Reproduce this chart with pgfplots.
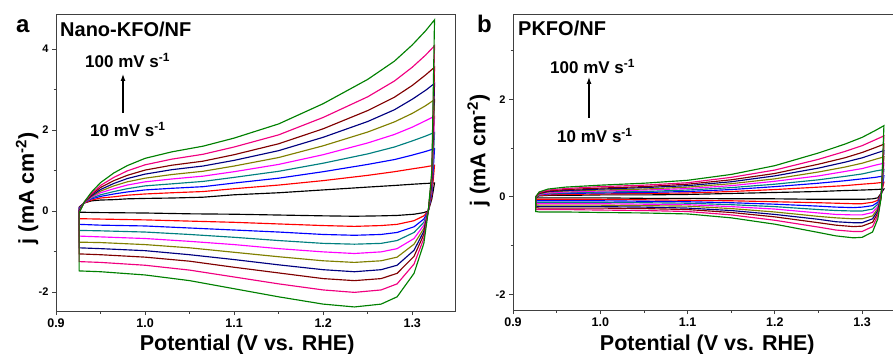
\documentclass[border=0pt]{standalone}
\usepackage{pgfplots}
\pgfplotsset{compat=1.18}
\usepackage{fontspec}
\setmainfont{Liberation Sans}
\usetikzlibrary{arrows.meta}
\definecolor{cBlack}{RGB}{0,0,0}
\definecolor{cRed}{RGB}{255,0,0}
\definecolor{cBlue}{RGB}{0,0,255}
\definecolor{cTeal}{RGB}{0,128,128}
\definecolor{cMag}{RGB}{255,0,255}
\definecolor{cOlive}{RGB}{128,128,0}
\definecolor{cNavy}{RGB}{0,0,128}
\definecolor{cWine}{RGB}{128,0,0}
\definecolor{cPink}{RGB}{240,0,128}
\definecolor{cGreen}{RGB}{0,128,0}
\pgfplotsset{cvax/.style={
  scale only axis,
  axis line style={line width=1pt, black!75},
  tick align=outside, tick pos=left,
  major tick length=4pt, minor tick length=2.5pt,
  every tick/.style={black!75, line width=0.8pt},
  xmin=0.9,
  xtick={0.9,1.0,1.1,1.2,1.3}, minor xtick={0.95,1.05,1.15,1.25},
  /pgf/number format/assume math mode=true,
  xticklabel style={font=\bfseries\fontsize{12.5}{12.5}\selectfont, /pgf/number format/.cd, fixed, fixed zerofill, precision=1},
  yticklabel style={font=\bfseries\fontsize{11}{11}\selectfont},
  every axis plot/.style={line width=1.15pt},
  xlabel={Potential (V vs. RHE)},
  ylabel={j (mA cm\textsuperscript{-2})},
  label style={font=\bfseries\fontsize{21.5}{21.5}\selectfont},
}}
\begin{document}
\begin{tikzpicture}
\path[use as bounding box] (0pt,0pt) rectangle (893pt,353pt);
% ---------------- panel a ----------------
\begin{axis}[cvax, at={(56pt,42pt)}, anchor=south west, width=399pt, height=296pt,
  xmax=1.348, ymin=-2.47, ymax=4.84,
  ytick={-2,0,2,4}, minor ytick={-1,1,3},
  xlabel style={at={(axis description cs:0.479,-0.1318)}, anchor=base},
  ylabel style={at={(axis description cs:-0.0727,0.415)}, anchor=center}]
\addplot[cBlack] coordinates {(0.926,0.10)(0.932,0.20)(0.94,0.25)(0.95,0.27)(0.965,0.28)(0.98,0.30)(1.0,0.31)(1.03,0.32)(1.065,0.34)(1.1,0.40)(1.15,0.45)(1.2,0.52)(1.25,0.59)(1.28,0.63)(1.30,0.66)(1.315,0.68)(1.325,0.69)
 (1.322,0.30)(1.318,0.00)(1.313,-0.04)(1.302,-0.08)(1.283,-0.11)(1.265,-0.12)(1.235,-0.13)(1.2,-0.12)(1.15,-0.10)(1.1,-0.08)(1.05,-0.07)(1.0,-0.05)(0.95,-0.04)(0.926,-0.03)(0.926,0.10)};
\addplot[cRed] coordinates {(0.926,0.08)(0.932,0.20)(0.94,0.27)(0.95,0.32)(0.965,0.35)(0.98,0.39)(1.0,0.42)(1.03,0.45)(1.065,0.48)(1.1,0.55)(1.15,0.64)(1.2,0.75)(1.25,0.88)(1.28,0.97)(1.30,1.04)(1.315,1.09)(1.325,1.13)
 (1.322,0.38)(1.318,0.00)(1.313,-0.12)(1.302,-0.24)(1.283,-0.33)(1.265,-0.36)(1.235,-0.38)(1.2,-0.36)(1.15,-0.32)(1.1,-0.28)(1.05,-0.25)(1.0,-0.22)(0.95,-0.20)(0.926,-0.19)(0.926,0.08)};
\addplot[cBlue] coordinates {(0.926,0.07)(0.932,0.21)(0.94,0.30)(0.95,0.36)(0.965,0.42)(0.98,0.47)(1.0,0.52)(1.03,0.56)(1.065,0.60)(1.1,0.69)(1.15,0.81)(1.2,0.97)(1.25,1.15)(1.28,1.27)(1.30,1.38)(1.315,1.47)(1.325,1.54)
 (1.322,0.45)(1.318,0.00)(1.313,-0.20)(1.302,-0.39)(1.283,-0.53)(1.265,-0.58)(1.235,-0.60)(1.2,-0.58)(1.15,-0.52)(1.1,-0.47)(1.05,-0.42)(1.0,-0.37)(0.95,-0.35)(0.926,-0.33)(0.926,0.07)};
\addplot[cTeal] coordinates {(0.926,0.05)(0.932,0.21)(0.94,0.32)(0.95,0.40)(0.965,0.48)(0.98,0.55)(1.0,0.62)(1.03,0.67)(1.065,0.73)(1.1,0.83)(1.15,0.98)(1.2,1.18)(1.25,1.41)(1.28,1.58)(1.30,1.73)(1.315,1.85)(1.325,1.94)
 (1.322,0.52)(1.318,0.00)(1.313,-0.28)(1.302,-0.53)(1.283,-0.73)(1.265,-0.80)(1.235,-0.82)(1.2,-0.80)(1.15,-0.73)(1.1,-0.65)(1.05,-0.58)(1.0,-0.52)(0.95,-0.49)(0.926,-0.48)(0.926,0.05)};
\addplot[cMag] coordinates {(0.926,0.04)(0.932,0.21)(0.94,0.34)(0.95,0.45)(0.965,0.55)(0.98,0.64)(1.0,0.72)(1.03,0.79)(1.065,0.86)(1.1,0.97)(1.15,1.15)(1.2,1.39)(1.25,1.68)(1.28,1.89)(1.30,2.07)(1.315,2.23)(1.325,2.34)
 (1.322,0.59)(1.318,0.00)(1.313,-0.35)(1.302,-0.68)(1.283,-0.93)(1.265,-1.01)(1.235,-1.05)(1.2,-1.01)(1.15,-0.93)(1.1,-0.83)(1.05,-0.75)(1.0,-0.68)(0.95,-0.64)(0.926,-0.62)(0.926,0.04)};
\addplot[cOlive] coordinates {(0.926,0.02)(0.932,0.22)(0.94,0.36)(0.95,0.49)(0.965,0.62)(0.98,0.72)(1.0,0.81)(1.03,0.90)(1.065,0.98)(1.1,1.11)(1.15,1.32)(1.2,1.61)(1.25,1.95)(1.28,2.20)(1.30,2.41)(1.315,2.60)(1.325,2.75)
 (1.322,0.66)(1.318,0.00)(1.313,-0.43)(1.302,-0.82)(1.283,-1.14)(1.265,-1.23)(1.235,-1.27)(1.2,-1.23)(1.15,-1.13)(1.1,-1.02)(1.05,-0.91)(1.0,-0.83)(0.95,-0.78)(0.926,-0.77)(0.926,0.02)};
\addplot[cNavy] coordinates {(0.926,0.01)(0.932,0.22)(0.94,0.38)(0.95,0.53)(0.965,0.68)(0.98,0.80)(1.0,0.91)(1.03,1.02)(1.065,1.11)(1.1,1.25)(1.15,1.49)(1.2,1.82)(1.25,2.21)(1.28,2.50)(1.30,2.76)(1.315,2.98)(1.325,3.15)
 (1.322,0.73)(1.318,0.00)(1.313,-0.50)(1.302,-0.97)(1.283,-1.34)(1.265,-1.45)(1.235,-1.50)(1.2,-1.45)(1.15,-1.33)(1.1,-1.20)(1.05,-1.08)(1.0,-0.98)(0.95,-0.93)(0.926,-0.91)(0.926,0.01)};
\addplot[cWine] coordinates {(0.926,-0.01)(0.932,0.22)(0.94,0.41)(0.95,0.58)(0.965,0.75)(0.98,0.88)(1.0,1.01)(1.03,1.13)(1.065,1.23)(1.1,1.39)(1.15,1.66)(1.2,2.03)(1.25,2.48)(1.28,2.81)(1.30,3.10)(1.315,3.36)(1.325,3.55)
 (1.322,0.80)(1.318,0.00)(1.313,-0.58)(1.302,-1.12)(1.283,-1.54)(1.265,-1.67)(1.235,-1.72)(1.2,-1.67)(1.15,-1.53)(1.1,-1.39)(1.05,-1.24)(1.0,-1.14)(0.95,-1.08)(0.926,-1.06)(0.926,-0.01)};
\addplot[cPink] coordinates {(0.926,-0.03)(0.932,0.23)(0.94,0.43)(0.95,0.63)(0.965,0.83)(0.98,0.99)(1.0,1.14)(1.03,1.28)(1.065,1.40)(1.1,1.58)(1.15,1.88)(1.2,2.31)(1.25,2.82)(1.28,3.21)(1.30,3.55)(1.315,3.85)(1.325,4.08)
 (1.322,0.89)(1.318,0.00)(1.313,-0.68)(1.302,-1.31)(1.283,-1.80)(1.265,-1.95)(1.235,-2.01)(1.2,-1.95)(1.15,-1.80)(1.1,-1.63)(1.05,-1.46)(1.0,-1.34)(0.95,-1.27)(0.926,-1.25)(0.926,-0.03)};
\addplot[cGreen] coordinates {(0.926,-0.05)(0.932,0.23)(0.94,0.47)(0.95,0.70)(0.965,0.94)(0.98,1.12)(1.0,1.30)(1.03,1.46)(1.065,1.60)(1.1,1.80)(1.15,2.15)(1.2,2.65)(1.25,3.25)(1.28,3.70)(1.30,4.10)(1.315,4.45)(1.325,4.72)
 (1.322,1.00)(1.318,0.00)(1.313,-0.80)(1.302,-1.54)(1.283,-2.12)(1.265,-2.30)(1.235,-2.37)(1.2,-2.30)(1.15,-2.12)(1.1,-1.92)(1.05,-1.72)(1.0,-1.58)(0.95,-1.50)(0.926,-1.48)(0.926,-0.05)};
\end{axis}
% ---------------- panel b ----------------
\begin{axis}[cvax, at={(513pt,43pt)}, anchor=south west, width=384pt, height=295pt,
  xmax=1.34, ymin=-2.32, ymax=3.73,
  ytick={-2,0,2}, minor ytick={-1,1,3},
  xlabel style={at={(axis description cs:0.506,-0.1356)}, anchor=base},
  ylabel style={at={(axis description cs:-0.0898,0.54)}, anchor=center}]
\addplot[cBlack] coordinates {(0.926,0.00)(0.93,0.02)(0.94,0.03)(0.96,0.03)(1.0,0.04)(1.05,0.04)(1.1,0.05)(1.15,0.07)(1.2,0.09)(1.25,0.11)(1.28,0.13)(1.30,0.14)(1.315,0.15)(1.325,0.16)
 (1.322,0.08)(1.318,-0.02)(1.312,-0.04)(1.30,-0.05)(1.29,-0.05)(1.27,-0.05)(1.25,-0.05)(1.2,-0.04)(1.15,-0.04)(1.1,-0.03)(1.05,-0.03)(1.0,-0.02)(0.96,-0.02)(0.93,-0.02)(0.926,-0.02)(0.926,0.00)};
\addplot[cRed] coordinates {(0.926,0.00)(0.93,0.03)(0.94,0.04)(0.96,0.05)(1.0,0.06)(1.05,0.07)(1.1,0.08)(1.15,0.11)(1.2,0.15)(1.25,0.20)(1.28,0.23)(1.30,0.26)(1.315,0.28)(1.325,0.30)
 (1.322,0.07)(1.318,-0.07)(1.312,-0.11)(1.30,-0.14)(1.29,-0.14)(1.27,-0.13)(1.25,-0.12)(1.2,-0.10)(1.15,-0.08)(1.1,-0.07)(1.05,-0.06)(1.0,-0.05)(0.96,-0.05)(0.93,-0.05)(0.926,-0.05)(0.926,0.00)};
\addplot[cBlue] coordinates {(0.926,0.00)(0.93,0.04)(0.94,0.06)(0.96,0.07)(1.0,0.08)(1.05,0.09)(1.1,0.11)(1.15,0.15)(1.2,0.21)(1.25,0.28)(1.28,0.33)(1.30,0.37)(1.315,0.40)(1.325,0.43)
 (1.322,0.06)(1.318,-0.11)(1.312,-0.18)(1.30,-0.21)(1.29,-0.22)(1.27,-0.21)(1.25,-0.19)(1.2,-0.15)(1.15,-0.12)(1.1,-0.10)(1.05,-0.09)(1.0,-0.08)(0.96,-0.08)(0.93,-0.08)(0.926,-0.08)(0.926,0.00)};
\addplot[cTeal] coordinates {(0.926,0.00)(0.93,0.04)(0.94,0.07)(0.96,0.08)(1.0,0.10)(1.05,0.11)(1.1,0.14)(1.15,0.19)(1.2,0.26)(1.25,0.35)(1.28,0.42)(1.30,0.47)(1.315,0.53)(1.325,0.56)
 (1.322,0.06)(1.318,-0.15)(1.312,-0.25)(1.30,-0.29)(1.29,-0.29)(1.27,-0.28)(1.25,-0.26)(1.2,-0.20)(1.15,-0.16)(1.1,-0.13)(1.05,-0.12)(1.0,-0.11)(0.96,-0.11)(0.93,-0.11)(0.926,-0.11)(0.926,0.00)};
\addplot[cMag] coordinates {(0.926,0.00)(0.93,0.05)(0.94,0.08)(0.96,0.10)(1.0,0.12)(1.05,0.14)(1.1,0.17)(1.15,0.23)(1.2,0.32)(1.25,0.43)(1.28,0.52)(1.30,0.58)(1.315,0.65)(1.325,0.69)
 (1.322,0.05)(1.318,-0.20)(1.312,-0.32)(1.30,-0.37)(1.29,-0.37)(1.27,-0.36)(1.25,-0.33)(1.2,-0.25)(1.15,-0.20)(1.1,-0.16)(1.05,-0.15)(1.0,-0.14)(0.96,-0.14)(0.93,-0.14)(0.926,-0.13)(0.926,0.00)};
\addplot[cOlive] coordinates {(0.926,0.00)(0.93,0.06)(0.94,0.10)(0.96,0.12)(1.0,0.14)(1.05,0.16)(1.1,0.20)(1.15,0.27)(1.2,0.37)(1.25,0.51)(1.28,0.61)(1.30,0.69)(1.315,0.77)(1.325,0.82)
 (1.322,0.04)(1.318,-0.24)(1.312,-0.39)(1.30,-0.45)(1.29,-0.45)(1.27,-0.43)(1.25,-0.40)(1.2,-0.31)(1.15,-0.24)(1.1,-0.19)(1.05,-0.18)(1.0,-0.17)(0.96,-0.17)(0.93,-0.17)(0.926,-0.16)(0.926,0.00)};
\addplot[cNavy] coordinates {(0.926,0.00)(0.93,0.07)(0.94,0.11)(0.96,0.13)(1.0,0.16)(1.05,0.19)(1.1,0.23)(1.15,0.31)(1.2,0.43)(1.25,0.59)(1.28,0.71)(1.30,0.80)(1.315,0.89)(1.325,0.95)
 (1.322,0.03)(1.318,-0.28)(1.312,-0.45)(1.30,-0.53)(1.29,-0.53)(1.27,-0.51)(1.25,-0.46)(1.2,-0.36)(1.15,-0.28)(1.1,-0.23)(1.05,-0.21)(1.0,-0.20)(0.96,-0.20)(0.93,-0.20)(0.926,-0.19)(0.926,0.00)};
\addplot[cWine] coordinates {(0.926,0.00)(0.93,0.08)(0.94,0.12)(0.96,0.15)(1.0,0.18)(1.05,0.21)(1.1,0.26)(1.15,0.35)(1.2,0.48)(1.25,0.67)(1.28,0.80)(1.30,0.91)(1.315,1.01)(1.325,1.08)
 (1.322,0.02)(1.318,-0.33)(1.312,-0.52)(1.30,-0.60)(1.29,-0.61)(1.27,-0.58)(1.25,-0.53)(1.2,-0.41)(1.15,-0.32)(1.1,-0.26)(1.05,-0.24)(1.0,-0.23)(0.96,-0.23)(0.93,-0.23)(0.926,-0.22)(0.926,0.00)};
\addplot[cPink] coordinates {(0.926,0.00)(0.93,0.09)(0.94,0.14)(0.96,0.17)(1.0,0.21)(1.05,0.24)(1.1,0.29)(1.15,0.40)(1.2,0.55)(1.25,0.77)(1.28,0.93)(1.30,1.05)(1.315,1.17)(1.325,1.25)
 (1.322,0.01)(1.318,-0.38)(1.312,-0.61)(1.30,-0.71)(1.29,-0.71)(1.27,-0.68)(1.25,-0.62)(1.2,-0.48)(1.15,-0.37)(1.1,-0.30)(1.05,-0.28)(1.0,-0.27)(0.96,-0.26)(0.93,-0.26)(0.926,-0.26)(0.926,0.00)};
\addplot[cGreen] coordinates {(0.926,0.00)(0.93,0.10)(0.94,0.16)(0.96,0.20)(1.0,0.24)(1.05,0.28)(1.1,0.34)(1.15,0.46)(1.2,0.64)(1.25,0.90)(1.28,1.08)(1.30,1.22)(1.315,1.36)(1.325,1.46)
 (1.322,0.00)(1.318,-0.45)(1.312,-0.72)(1.30,-0.83)(1.29,-0.84)(1.27,-0.80)(1.25,-0.73)(1.2,-0.56)(1.15,-0.43)(1.1,-0.35)(1.05,-0.33)(1.0,-0.32)(0.96,-0.31)(0.93,-0.31)(0.926,-0.30)(0.926,0.00)};
\end{axis}
% ---------------- annotations ----------------
\node[font=\bfseries\fontsize{24}{24}\selectfont, anchor=base west, inner sep=0pt] at (16pt,320pt) {a};
\node[font=\bfseries\fontsize{24}{24}\selectfont, anchor=base west, inner sep=0pt] at (477pt,320pt) {b};
\node[font=\bfseries\fontsize{20}{20}\selectfont, anchor=base west, inner sep=0pt] at (60pt,316pt) {Nano-KFO/NF};
\node[font=\bfseries\fontsize{20}{20}\selectfont, anchor=base west, inner sep=0pt] at (518pt,317pt) {PKFO/NF};
\node[font=\bfseries\fontsize{17}{17}\selectfont, anchor=base west, inner sep=0pt] at (85pt,285pt) {100 mV s\textsuperscript{-1}};
\node[font=\bfseries\fontsize{17}{17}\selectfont, anchor=base west, inner sep=0pt] at (90pt,216pt) {10 mV s\textsuperscript{-1}};
\draw[-{Latex[length=7pt,width=5pt]}, line width=1.2pt] (123pt,240pt) -- (123pt,279pt);
\node[font=\bfseries\fontsize{17}{17}\selectfont, anchor=base west, inner sep=0pt] at (550pt,279pt) {100 mV s\textsuperscript{-1}};
\node[font=\bfseries\fontsize{17}{17}\selectfont, anchor=base west, inner sep=0pt] at (557pt,210pt) {10 mV s\textsuperscript{-1}};
\draw[-{Latex[length=7pt,width=5pt]}, line width=1.2pt] (589pt,235pt) -- (589pt,276pt);
\end{tikzpicture}
\end{document}
